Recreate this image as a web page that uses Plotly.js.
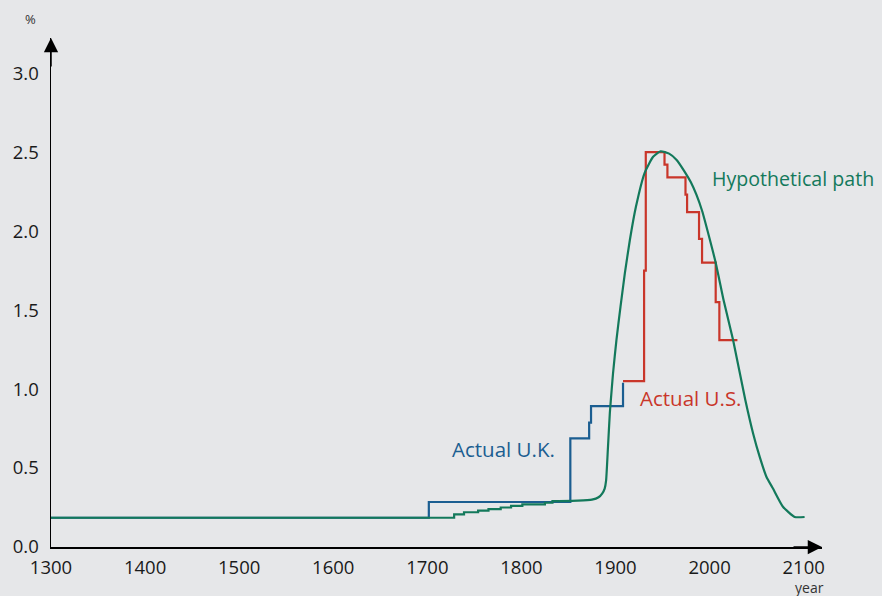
<!DOCTYPE html>
<html>
<head>
<meta charset="utf-8">
<script src="https://cdn.plot.ly/plotly-3.0.1.min.js"></script>
<style>html,body{margin:0;padding:0;background:#e6e7e9;}#chart{width:882px;height:596px;}</style>
</head>
<body>
<div id="chart"></div>
<script>
// Hypothetical path: early stepped part
var hypoStepYears = [1300, 1728.5, 1739, 1754, 1765, 1778, 1789, 1801, 1825, 1833, 1840];
var hypoStepValues = [0.185, 0.207, 0.22, 0.23, 0.24, 0.25, 0.26, 0.27, 0.28, 0.29, 0.29];
// Hypothetical path: smooth hump
var hypoCurveYears = [1840, 1860, 1875, 1882, 1886, 1888.5, 1890, 1892, 1894, 1896, 1897.4, 1901, 1905.3, 1909.9, 1915.2, 1921.6, 1931.1, 1940, 1948, 1957, 1965, 1973.6, 1980, 1986, 1992.2, 2006.5, 2015, 2025, 2038, 2046.2, 2053.3, 2060.4, 2067.4, 2078, 2090.5, 2101];
var hypoCurveValues = [0.29, 0.293, 0.30, 0.315, 0.34, 0.37, 0.42, 0.63, 0.85, 1.0, 1.10, 1.31, 1.52, 1.73, 1.94, 2.15, 2.37, 2.47, 2.505, 2.49, 2.45, 2.375, 2.31, 2.23, 2.125, 1.80, 1.56, 1.31, 0.93, 0.72, 0.57, 0.445, 0.37, 0.255, 0.19, 0.19];
// Actual U.K.
var ukYears = [1300, 1701.6, 1852, 1872, 1874, 1908];
var ukValues = [0.185, 0.285, 0.688, 0.787, 0.892, 1.04];
// Actual U.S.
var usYears = [1908, 1930.4, 1932.2, 1952.1, 1955.2, 1974.4, 1976.1, 1988.8, 1992, 2006.5, 2010.4, 2029.6];
var usValues = [1.05, 1.75, 2.50, 2.42, 2.34, 2.23, 2.12, 1.95, 1.80, 1.55, 1.31, 1.31];

var labelTexts = ['Hypothetical path', 'Actual U.S.', 'Actual U.K.'];
var labelYears = [2000.2, 1923.7, 1723.9];
var labelValues = [2.33, 0.943, 0.62];
var labelSizes = [19.6, 20.5, 20.5];

var xTickVals = [1300, 1400, 1500, 1600, 1700, 1800, 1900, 2000, 2100];
var yTickVals = [0, 0.5, 1.0, 1.5, 2.0, 2.5, 3.0];

var GREEN = '#13795b', BLUE = '#1b5e91', RED = '#c9362a';
var FONT = 'Open Sans, sans-serif';

var traces = [
  {x: ukYears, y: ukValues, mode: 'lines', line: {color: BLUE, width: 2.2, shape: 'hv'}, hoverinfo: 'skip'},
  {x: usYears, y: usValues, mode: 'lines', line: {color: RED, width: 2.2, shape: 'hv'}, hoverinfo: 'skip'},
  {x: hypoStepYears, y: hypoStepValues, mode: 'lines', line: {color: GREEN, width: 2.2, shape: 'hv'}, hoverinfo: 'skip'},
  {x: hypoCurveYears, y: hypoCurveValues, mode: 'lines', line: {color: GREEN, width: 2.2, shape: 'spline', smoothing: 0.5}, hoverinfo: 'skip'}
];

var labelColors = [GREEN, RED, BLUE];
var annotations = labelTexts.map(function (t, i) {
  return {x: labelYears[i], y: labelValues[i], xref: 'x', yref: 'y', text: t, showarrow: false,
    xanchor: 'left', yanchor: 'middle', font: {family: FONT, size: labelSizes[i], color: labelColors[i]}};
});
// axis arrowheads
annotations.push({x: 2119.5, y: 0, xref: 'x', yref: 'y', ax: -30, ay: 0, text: '', showarrow: true,
  arrowhead: 2, arrowsize: 1.9, arrowwidth: 1.5, arrowcolor: '#000', standoff: 0});
annotations.push({x: 1300, y: 3.222, xref: 'x', yref: 'y', ax: 0, ay: 30, text: '', showarrow: true,
  arrowhead: 2, arrowsize: 1.9, arrowwidth: 1.5, arrowcolor: '#000', standoff: 0});
annotations.push({x: -0.0272, y: 1.037, xref: 'paper', yref: 'paper', text: '%', showarrow: false,
  xanchor: 'center', yanchor: 'middle', font: {family: FONT, size: 13, color: '#333'}});
annotations.push({x: 0.984, y: -0.08, xref: 'paper', yref: 'paper', text: 'year', showarrow: false,
  xanchor: 'center', yanchor: 'middle', font: {family: FONT, size: 14, color: '#333'}});

var layout = {
  width: 882, height: 596,
  paper_bgcolor: '#e6e7e9', plot_bgcolor: '#e6e7e9',
  margin: {l: 51, r: 60, t: 38, b: 49},
  showlegend: false,
  xaxis: {range: [1300, 2119.5], tickvals: xTickVals, ticktext: xTickVals.map(String), showgrid: false, zeroline: false,
    showline: true, linecolor: '#000', linewidth: 1.5, ticks: '', ticklabelstandoff: 3,
    tickfont: {family: FONT, size: 18.5, color: '#1a1a1a'}},
  yaxis: {range: [0, 3.222], tickvals: yTickVals, ticktext: yTickVals.map(function (v) { return v.toFixed(1); }), showgrid: false, zeroline: false,
    showline: true, linecolor: '#000', linewidth: 1.5, ticks: '', ticklabelstandoff: 7,
    tickfont: {family: FONT, size: 18.5, color: '#1a1a1a'}},
  annotations: annotations
};

Plotly.newPlot('chart', traces, layout, {staticPlot: true});
</script>
</body>
</html>
